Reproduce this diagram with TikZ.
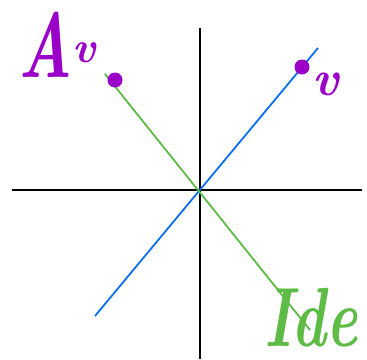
\documentclass[tikz,border=0pt]{standalone}
\usepackage{fontspec}
\usepackage{graphicx}
\begin{document}
\begin{tikzpicture}[x=1pt,y=-1pt,
  axis/.style={line width=2pt,black},
  bluel/.style={line width=1.8pt,draw=myblue},
  greenl/.style={line width=1.8pt,draw=mygreen},
  dotp/.style={circle,fill=mypurple,inner sep=0pt,minimum size=15pt},
  hand/.style={inner sep=0pt,anchor=base west}]
\definecolor{myblue}{HTML}{0A6EF0}
\definecolor{mygreen}{HTML}{5DBB46}
\definecolor{mypurple}{HTML}{9B00C8}
\useasboundingbox (0,0) rectangle (367,359);
\coordinate (xl) at (12,190);
\coordinate (xr) at (362,190);
\coordinate (yt) at (200,28);
\coordinate (yb) at (200,359);
\draw[axis] (xl) -- (xr);
\draw[axis] (yt) -- (yb);
\coordinate (b1) at (95,316);
\coordinate (b2) at (318,48);
\coordinate (g1) at (105,74);
\coordinate (g2) at (310,330);
\draw[bluel] (b1) -- (b2);
\draw[greenl] (g1) -- (g2);
\node[dotp] (d1) at (115,80) {};
\node[dotp] (d2) at (302,67) {};
\node[hand,text=mypurple,font=\fontsize{92}{92}\selectfont\bfseries\itshape] (A) at (18,77) {\scalebox{0.68}[1]{A}};
\node[hand,text=mypurple,font=\fontsize{44}{44}\selectfont\bfseries\itshape] (Av) at (72,62) {v};
\node[hand,text=mypurple,font=\fontsize{50}{50}\selectfont\bfseries\itshape] (v) at (312,95) {v};
\node[hand,text=mygreen,font=\fontsize{84}{84}\selectfont\bfseries\itshape] (I) at (264,346) {\scalebox{0.7}[1]{Ide}};
\end{tikzpicture}
\end{document}
